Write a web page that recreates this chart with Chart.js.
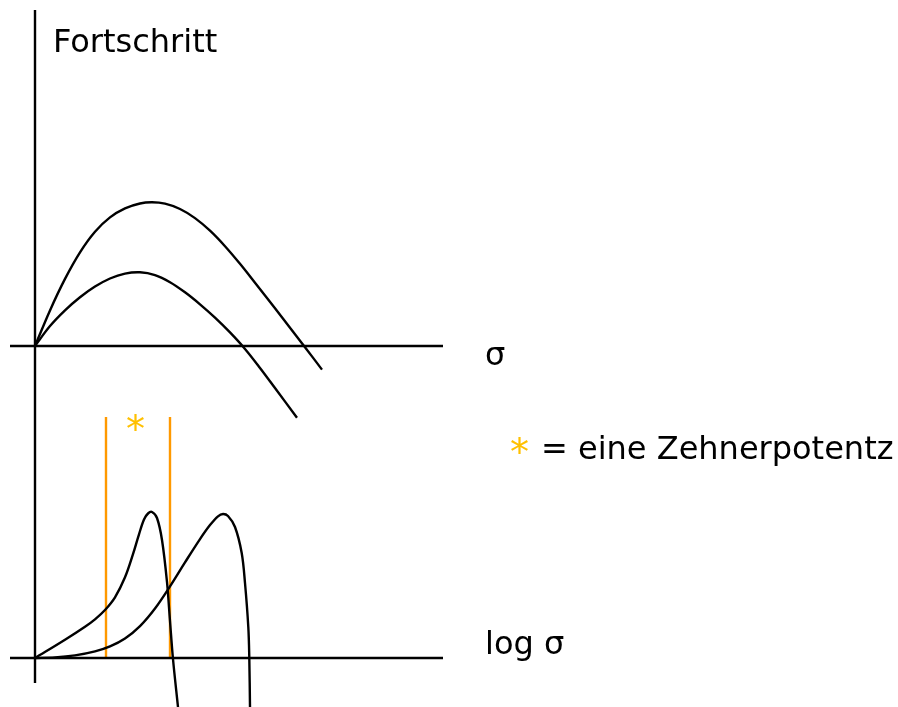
<!DOCTYPE html>
<html>
<head>
<meta charset="utf-8">
<script src="https://cdn.jsdelivr.net/npm/chart.js@4/dist/chart.umd.min.js"></script>
<style>
  html, body { margin: 0; padding: 0; background: #fff; }
  #wrap { position: relative; width: 898px; height: 707px; overflow: hidden; }
  canvas { position: absolute; left: 0; top: 0; }
  .lbl { position: absolute; font-family: "DejaVu Sans", Verdana, sans-serif; font-size: 32px; line-height: 32px; color: #000; white-space: nowrap; }
  .star { font-size: 38px; line-height: 38px; color: #FFC000; }
</style>
</head>
<body>
<div id="wrap">
  <canvas id="c" width="898" height="707"></canvas>
  <div class="lbl" style="left:53px;top:25px;">Fortschritt</div>
  <div class="lbl" style="left:485px;top:338px;">σ</div>
  <div class="lbl" style="left:485px;top:627px;">log σ</div>
  <div class="lbl star" style="left:510px;top:433px;">*</div>
  <div class="lbl" style="left:541px;top:432px;">= eine Zehnerpotentz</div>
  <div class="lbl star" style="left:126px;top:410px;">*</div>
</div>
<script>
// Upper panel (linear σ): progress curves, units relative to origin
const upperHighX = [0, 15, 30, 45, 60, 75, 90, 105, 117, 130, 145, 160, 175, 190, 205, 220, 240, 255, 270, 287];
const upperHighY = [0, 35.6, 67.1, 93.7, 114.3, 128.6, 137.6, 142.5, 143.7, 142.3, 137.0, 127.9, 115.3, 99.8, 82.2, 63.3, 37.7, 18.3, -1.2, -23.6];
const upperLowX  = [0, 15, 30, 45, 60, 75, 90, 105, 120, 135, 150, 165, 180, 195, 210, 225, 240, 262];
const upperLowY  = [0, 19.9, 35.6, 48.7, 59.4, 67.5, 72.4, 73.7, 70.9, 63.8, 53.7, 41.7, 28.4, 13.6, -2.9, -21.9, -42.0, -71.8];

// Lower panel (log σ): progress curves
const lowerLeftX  = [0, 30, 50, 60, 70, 80, 90, 98, 104, 109, 113, 117, 122, 127, 132, 135, 138, 143];
const lowerLeftY  = [0, 18.3, 31.3, 38.7, 48, 60.7, 80.7, 103.9, 123.7, 138.5, 144.5, 146, 140, 118, 76, 37, -1, -49];
const lowerRightX = [0, 20, 40, 60, 75, 90, 105, 120, 135, 150, 165, 175, 183, 188, 193, 200, 206.7, 210, 213.3, 214.3, 215];
const lowerRightY = [0, 0.6, 2.6, 6.6, 11.6, 19.5, 31.9, 49.5, 71.6, 95.6, 118.9, 132.9, 141.7, 144, 142, 131, 105, 75, 31, 0, -49];

// One power of ten (markers on log axis)
const decadeMarksX = [71, 135];
const decadeMarkTop = 241;

// Axes extents
const horizAxisX = [-25, 408];
const vertAxisY = [336, -337];

const xMin = -35, xMax = 863;
const topMin = -361, topMax = 346;
const botMin = -49, botMax = 658;

function pts(xs, ys) { return xs.map((x, i) => ({ x: x, y: ys[i] })); }

const black = '#000000';
const orange = '#FF9900';

function line(data, axis, color, width, tension) {
  return {
    data: data,
    yAxisID: axis,
    showLine: true,
    borderColor: color,
    backgroundColor: color,
    borderWidth: width,
    pointRadius: 0,
    pointHoverRadius: 0,
    fill: false,
    clip: false,
    tension: tension
  };
}

const datasets = [
  line(pts([0, 0], vertAxisY), 'yTop', black, 2.4, 0),
  line(pts(horizAxisX, [0, 0]), 'yTop', black, 2.4, 0),
  line(pts(horizAxisX, [0, 0]), 'yBot', black, 2.4, 0),
  line(pts(upperHighX, upperHighY), 'yTop', black, 2.4, 0.35),
  line(pts(upperLowX, upperLowY), 'yTop', black, 2.4, 0.35),
  line(pts(lowerLeftX, lowerLeftY), 'yBot', black, 2.4, 0.35),
  line(pts(lowerRightX, lowerRightY), 'yBot', black, 2.4, 0.35)
];
decadeMarksX.forEach(x => {
  datasets.push(line(pts([x, x], [decadeMarkTop, 0]), 'yBot', orange, 2.4, 0));
});

new Chart(document.getElementById('c'), {
  type: 'scatter',
  data: { datasets: datasets },
  options: {
    responsive: false,
    animation: false,
    devicePixelRatio: 1,
    layout: { padding: 0 },
    plugins: { legend: { display: false }, tooltip: { enabled: false } },
    events: [],
    scales: {
      x: { type: 'linear', display: false, min: xMin, max: xMax },
      yTop: { type: 'linear', display: false, min: topMin, max: topMax },
      yBot: { type: 'linear', display: false, min: botMin, max: botMax }
    }
  }
});
</script>
</body>
</html>
